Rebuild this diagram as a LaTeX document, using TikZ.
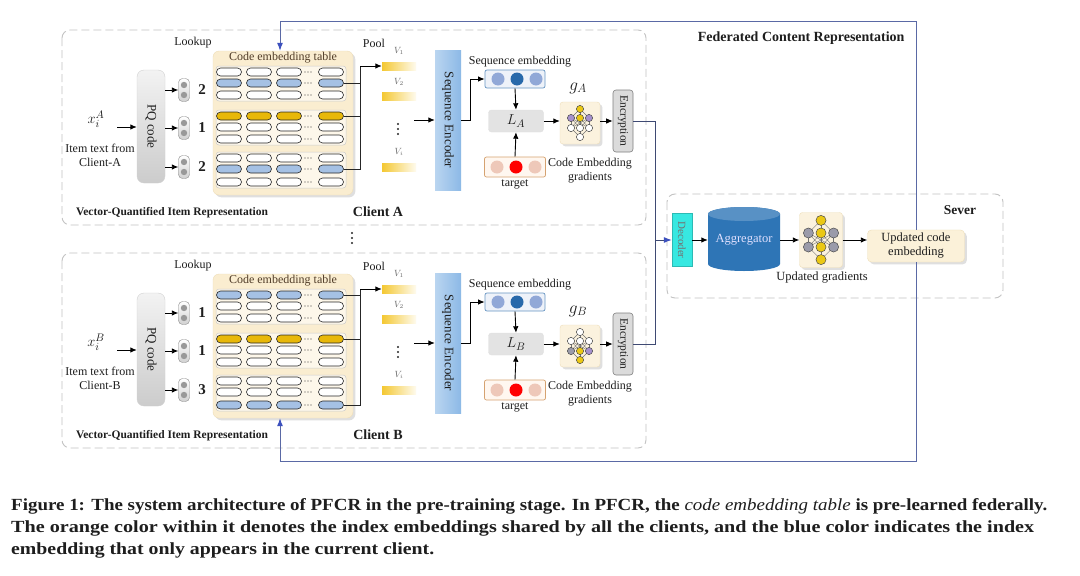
\documentclass[tikz,border=0pt]{standalone}
\usepackage{fontspec}
\setmainfont{Liberation Serif}
\usepackage{graphicx}
\usetikzlibrary{arrows.meta,shadows,calc}

\definecolor{fedblue}{RGB}{90,105,165}
\definecolor{tipblue}{RGB}{60,80,190}
\definecolor{dashgray}{RGB}{195,195,195}
\definecolor{tblbg}{RGB}{250,237,208}
\definecolor{tblbg2}{RGB}{238,222,185}
\definecolor{pillblue}{RGB}{165,193,228}
\definecolor{pillorange}{RGB}{232,184,10}
\definecolor{vyellow}{RGB}{244,200,50}
\definecolor{encblue}{RGB}{140,185,230}
\definecolor{seqdark}{RGB}{40,105,170}
\definecolor{seqlight}{RGB}{145,168,215}
\definecolor{tgtlight}{RGB}{238,200,185}
\definecolor{aggblue}{RGB}{46,117,182}
\definecolor{deccyan}{RGB}{55,232,225}
\definecolor{nnyellow}{RGB}{235,200,20}
\definecolor{nnpurple}{RGB}{165,145,205}
\definecolor{nngray}{RGB}{155,155,170}
\definecolor{txt}{RGB}{30,30,30}
\definecolor{brownc}{RGB}{80,60,40}

\newcommand\fsz[2]{\fontsize{#1}{#2}\selectfont}

\tikzset{
 arr/.style={-{Latex[length=6.5pt,width=5.5pt]}, line width=0.9pt, draw=black},
 tline/.style={line width=0.8pt, draw=black!85},
 fedline/.style={line width=1pt, draw=fedblue},
 fedarr/.style={fedline, -{Latex[length=8pt,width=6pt,color=tipblue]}},
 clientbox/.style={draw=dashgray, dash pattern=on 8pt off 4pt, rounded corners=8pt, line width=0.9pt},
 pill/.style={draw=black!85, line width=0.6pt, rounded corners=4pt, minimum width=25pt, minimum height=8pt, inner sep=0pt},
 subpanel/.style={draw=black!20, fill=white!55!tblbg, rounded corners=3pt, line width=0.5pt},
 tblbox/.style={fill=tblbg, draw=tblbg2, rounded corners=6pt, minimum width=140pt, minimum height=144pt, drop shadow={opacity=0.25}},
 pqbox/.style={top color=black!5, bottom color=black!20, draw=black!18, rounded corners=7pt, minimum width=28pt, minimum height=113pt},
 capsule/.style={draw=black!45, top color=white, bottom color=black!18, rounded corners=4pt, minimum width=11pt, minimum height=23pt, inner sep=0pt},
 vbar/.style={left color=vyellow, right color=vyellow!8, minimum width=34pt, minimum height=8pt, inner sep=0pt},
 encbox/.style={left color=encblue!60, right color=encblue, minimum width=26pt, minimum height=140pt, inner sep=0pt},
 seqbox/.style={draw=seqdark!70, fill=seqlight!15, rounded corners=2pt, minimum width=60pt, minimum height=18pt, line width=0.7pt},
 tgtbox/.style={draw=brownc!40!orange!60, fill=orange!6, rounded corners=2pt, minimum width=61pt, minimum height=20pt, line width=0.7pt},
 lbox/.style={fill=black!11, draw=black!12, rounded corners=3pt, minimum width=55pt, minimum height=22pt},
 gicon/.style={fill=tblbg!70, draw=tblbg2, rounded corners=3pt, minimum width=40pt, minimum height=42pt, drop shadow={opacity=0.25}},
 crbox/.style={fill=black!14, draw=black!50, rounded corners=3pt, minimum width=20pt, minimum height=62pt, line width=0.6pt},
 decbox/.style={fill=deccyan, draw=deccyan!80!black, minimum width=20pt, minimum height=53pt, line width=0.4pt},
 updbox/.style={fill=tblbg!80, draw=tblbg2, rounded corners=4pt, minimum width=97pt, minimum height=32pt, drop shadow={opacity=0.25}, align=center, font=\fsz{12.5}{14}},
 nnedge/.style={draw=black!55, line width=0.4pt},
 lbl/.style={font=\fsz{12}{14}},
}

% vertical ellipsis drawn as three dots
\newcommand\vdotsat[2]{\foreach \dy in {-5,0,5}{\fill[black!85] (#1,#2+\dy) circle[radius=1.2];}}

\newcommand\nnet[8]{%
 \coordinate (nn1) at (0,-14); \coordinate (nn2) at (-9,-5); \coordinate (nn3) at (0,-5); \coordinate (nn4) at (9,-5);
 \coordinate (nn5) at (-9,5); \coordinate (nn6) at (0,5); \coordinate (nn7) at (9,5); \coordinate (nn8) at (0,14);
 \foreach \a in {2,3,4}{\draw[nnedge] (nn1) -- (nn\a); \foreach \b in {5,6,7}{\draw[nnedge] (nn\a) -- (nn\b);}}
 \foreach \b in {5,6,7}{\draw[nnedge] (nn\b) -- (nn8);}
 \foreach \k/\c in {1/#1,2/#2,3/#3,4/#4,5/#5,6/#6,7/#7,8/#8}{\filldraw[draw=black!70, fill=\c, line width=0.5pt] (nn\k) circle[radius=3.6];}
}
\newcommand\nnA{\nnet{nnyellow}{nnpurple}{nnyellow}{nnpurple}{white}{white}{white}{white}}
\newcommand\nnB{\nnet{white}{white}{white}{white}{nngray}{nnyellow}{nnpurple}{nnyellow}}

% #1 name, #2 y offset, #3-#5 codes, #6 blue row (group 1), #7 blue row (group 3), #8 client letter
\newcommand\ClientBlock[8]{%
\begin{scope}[shift={(0,#2)}]
 \draw[clientbox] (62,30) rectangle (646,225);
 \node[lbl] at (193,43) {Lookup};
 \node[lbl] at (374,43) {Pool};
 \node (#1-x) at (96,119) {\fsz{15}{15}$x_i^{#8}$};
 \node[lbl, align=center] (#1-it) at (100,155) {Item text from\\Client-#8};
 \coordinate (#1-xin) at (117,127);
 \node[pqbox] (#1-pq) at (151,126.5) {};
 \node[rotate=-90, font=\fsz{13}{13}] at (#1-pq.center) {PQ code};
 \draw[arr] (#1-xin) -- (#1-xin -| #1-pq.west);
 \foreach \k/\yy/\nn in {1/90/#3,2/128/#4,3/167/#5}{
  \node[capsule] (#1-c\k) at (184,\yy) {};
  \fill[black!40] (184,\yy-5) circle[radius=3.2] (184,\yy+5) circle[radius=3.2];
  \draw[arr] (#1-pq.east |- #1-c\k) -- (#1-c\k.west);
  \node[font=\bfseries\fsz{15}{15}] at (202,\yy) {\nn};
 }
 % code embedding table
 \node[tblbox] (#1-tbl) at (283,123) {};
 \node[lbl, text=brownc] at (283,58) {Code embedding table};
 \foreach \a/\b in {66/101,110/145,152/188} \draw[subpanel] (216,\a) rectangle (346,\b);
 \foreach \r/\yy in {1/72,2/83,3/95,4/116,5/127,6/139,7/158,8/169,9/182}{
  \ifnum\r=4 \def\pc{pillorange}\else\ifnum\r=#6 \def\pc{pillblue}\else\ifnum\r=#7 \def\pc{pillblue}\else\def\pc{white}\fi\fi\fi
  \foreach \xx in {229,259,289}{\node[pill, fill=\pc] at (\xx,\yy) {};}
  \foreach \dx in {-3,0,3}{\fill[black!75] (308+\dx,\yy) circle[radius=0.7];}
  \node[pill, fill=\pc] (#1-r\r) at (331,\yy) {};
 }
 % pool
 \coordinate (#1-j) at (360,66);
 \node[vbar] (#1-V1) at (399,66) {};
 \node[vbar] (#1-V2) at (399,96) {};
 \node[vbar] (#1-Vi) at (399,167) {};
 \node[font=\fsz{9}{9}, text=black!60] at (399,51) {$V_1$};
 \node[font=\fsz{9}{9}, text=black!60] at (399,82) {$V_2$};
 \node[font=\fsz{9}{9}, text=black!60] at (399,152) {$V_i$};
 \vdotsat{398}{129}
 \draw[tline] (#1-r#7.east) -| (#1-j);
 \draw[tline] (#1-r#6.east) -- (#1-r#6.east -| #1-j);
 \draw[tline] (#1-r4.east) -- (#1-r4.east -| #1-j);
 \draw[arr] (#1-j) -- (#1-V1.west);
 % sequence encoder
 \coordinate (#1-pin) at (414,120);
 \node[encbox] (#1-enc) at (448,120) {};
 \node[rotate=-90, font=\fsz{13}{13}] at (#1-enc.center) {Sequence Encoder};
 \draw[arr] (#1-pin) -- (#1-pin -| #1-enc.west);
 % sequence embedding
 \node[seqbox] (#1-seq) at (515,79) {};
 \fill[seqlight] (498,79) circle[radius=6.5];
 \fill[seqdark] (517,79) circle[radius=6.5];
 \fill[seqlight] (536,79) circle[radius=6.5];
 \node[lbl] at (520,62) {Sequence embedding};
 \draw[arr] (#1-enc.east) -- ++(9,0) |- (#1-seq.west);
 % loss
 \node[lbox] (#1-L) at (516,121) {\fsz{15}{15}$L_{#8}$};
 \draw[arr] (#1-seq.south) -- (#1-L.north);
 \node[tgtbox] (#1-tgt) at (515,167) {};
 \fill[tgtlight] (497,167) circle[radius=6.5];
 \fill[red] (516,167) circle[radius=6.5];
 \fill[tgtlight] (535,167) circle[radius=6.5];
 \node[lbl] at (515,184) {target};
 \draw[arr] (#1-tgt.north) -- (#1-L.south);
 % gradients icon
 \node[gicon] (#1-g) at (580,123) {};
 \begin{scope}[shift={(580,123)}] \csname nn#1\endcsname \end{scope}
 \node at (578,88) {\fsz{17}{17}$g_{#8}$};
 \node[lbl, align=center] at (590,171) {Code Embedding\\gradients};
 \draw[arr] (#1-L.east) -- (#1-L.east -| #1-g.west);
 \node[crbox] (#1-cr) at (623,121) {};
 \node[rotate=-90, font=\fsz{11.5}{11.5}] at (#1-cr.center) {Encryption};
 \draw[arr] (#1-g.east |- #1-L) -- (#1-cr.west |- #1-L);
 % labels
 \node[font=\bfseries\fsz{11.5}{12}] at (172,213) {Vector-Quantified Item Representation};
 \node[font=\bfseries\fsz{14}{14}] at (378,212) {Client #8};
\end{scope}}

\begin{document}
\begin{tikzpicture}[x=1pt,y=-1pt, text=txt]
\useasboundingbox (0,0) rectangle (1080,576);
\fill[white] (0,0) rectangle (1080,576);

\ClientBlock{A}{0}{2}{1}{2}{2}{8}{A}
\ClientBlock{B}{223}{1}{1}{3}{1}{9}{B}

\vdotsat{352}{238}

% federated label
\node[font=\bfseries\fsz{14}{14}, anchor=east] at (908,38) {Federated Content Representation};

% server
\draw[clientbox] (667,194) rectangle (1003,298);
\node[font=\bfseries\fsz{13.5}{14}] at (960,210) {Sever};
\node[decbox] (dec) at (682,240) {};
\node[rotate=-90, font=\fsz{11}{11}, text=black!55] at (dec.center) {Decoder};
\fill[aggblue] (708,214) -- (708,264) arc[start angle=180, end angle=0, x radius=36, y radius=7] -- (780,214) arc[start angle=0, end angle=-180, x radius=36, y radius=7] -- cycle;
\fill[aggblue!80!white] (744,214) ellipse[x radius=36, y radius=7];
\node[minimum width=72pt, minimum height=62pt, text=blue!12!white, font=\fsz{12.5}{13}] (agg) at (744,240) {Aggregator};
\node[gicon, minimum width=43pt, minimum height=55pt] (ug) at (821,240) {};
\begin{scope}[shift={(821,240)}, scale=1.4] \nnet{nnyellow}{nngray}{nnyellow}{nngray}{nngray}{nnyellow}{nngray}{nnyellow} \end{scope}
\node[lbl, font=\fsz{12.5}{13}] at (822,278) {Updated gradients};
\node[updbox] (upd) at (916,246) {Updated code\\embedding};
\draw[arr] (dec.east) -- (agg.west);
\draw[arr] (agg.east) -- (ug.west);
\draw[arr] (ug.east) -- (ug.east -| upd.west);

% encryption to decoder
\coordinate (mrg) at (655,240);
\draw[fedline, draw=fedblue!70!black] (A-cr.east) -| (mrg);
\draw[fedline, draw=fedblue!70!black] (B-cr.east) -| (mrg);
\draw[fedarr, draw=fedblue!70!black] (mrg) -- (dec.west);

% federated frame
\coordinate (ftop) at (280,21);
\coordinate (fbot) at (280,461);
\draw[fedarr] (upd.north) |- (ftop) -- (ftop |- A-tbl.north);
\draw[fedarr] (upd.south) |- (fbot) -- (fbot |- B-tbl.south);

% caption
\begin{scope}[every node/.style={anchor=base west, inner sep=0pt, font=\bfseries\fsz{17}{22}}]
\node (cap1) at (11,510) {\resizebox{1036pt}{\height}{Figure 1: The system architecture of PFCR in the pre-training stage. In PFCR, the {\mdseries\itshape code embedding table} is pre-learned federally.}};
\node (cap2) at (11,532) {\resizebox{1023pt}{\height}{The orange color within it denotes the index embeddings shared by all the clients, and the blue color indicates the index}};
\node (cap3) at (11,554) {\resizebox{423pt}{\height}{embedding that only appears in the current client.}};
\end{scope}
\end{tikzpicture}
\end{document}
